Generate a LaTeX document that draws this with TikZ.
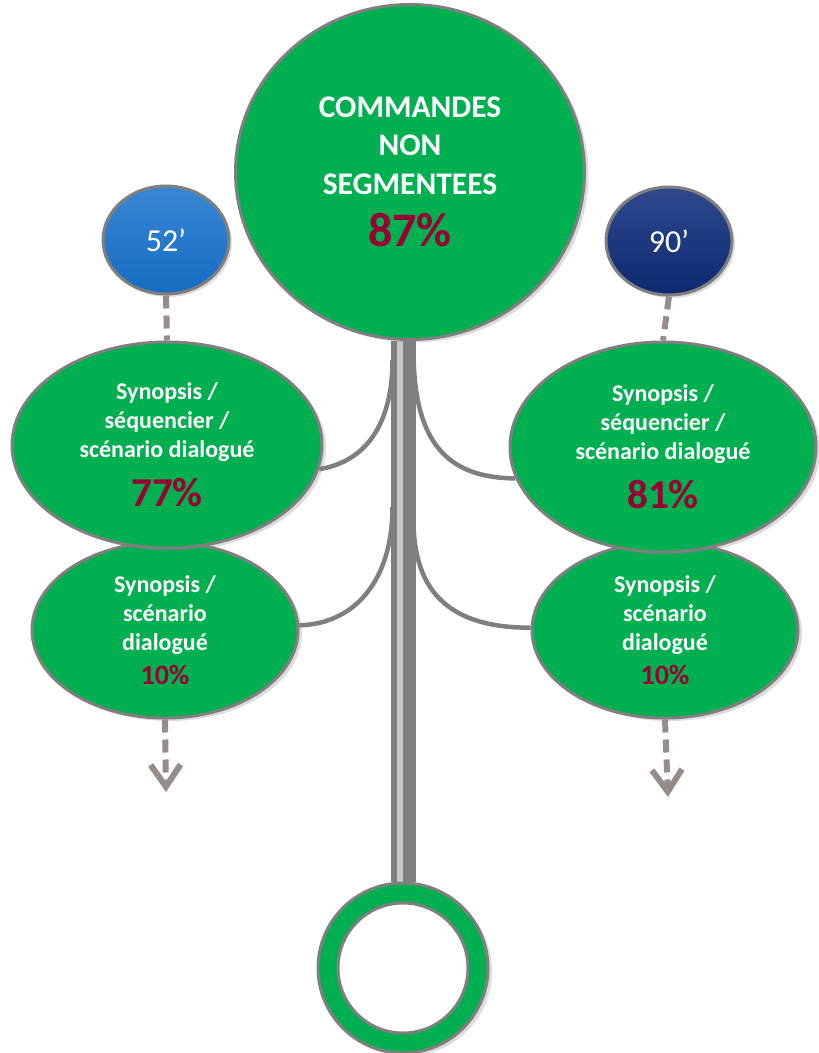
\documentclass[tikz,border=0pt]{standalone}
\usepackage{fontspec}
\setmainfont{Carlito}
\usetikzlibrary{arrows.meta,shapes.geometric,shadows,backgrounds}
\definecolor{leafgreen}{HTML}{00B050}
\definecolor{rimgray}{HTML}{7F7F7F}
\definecolor{stemlight}{HTML}{C8C8C8}
\definecolor{pctred}{HTML}{990033}
\definecolor{dashgray}{HTML}{978C8C}
\definecolor{blueshort}{HTML}{1672CC}
\definecolor{bluelong}{HTML}{0B2A77}
\newcommand{\pctline}[2]{{\color{pctred}\fontsize{#1}{#1}\selectfont #2\%}}
\tikzset{every node/.style={font=\bfseries,text=white,align=center,inner sep=0pt},
  leaf/.style={ellipse,fill=leafgreen,draw=rimgray,line width=3pt,
    drop shadow={opacity=0.28,shadow xshift=4pt,shadow yshift=-3pt}},
  button/.style={ellipse,draw=rimgray,line width=3pt,top color=#1!85!white,
    middle color=#1,bottom color=#1!95!black,font=\fontsize{32}{36}\selectfont,
    minimum width=126pt,minimum height=108pt,
    drop shadow={opacity=0.25,shadow xshift=3pt,shadow yshift=-3pt}},
  branch/.style={draw=rimgray,line width=4.5pt},
  dashlink/.style={draw=dashgray,line width=6pt,dash pattern=on 13pt off 7pt},
  line cap=butt}

\begin{document}
\begin{tikzpicture}[x=1pt,y=-1pt]
  \useasboundingbox (0,0) rectangle (819,1053);
  % lower leaves first, upper ones overlap them
  \node[leaf,minimum width=266pt,minimum height=176pt,font=\bfseries\fontsize{24}{29}\selectfont]
    (synleft) at (165,630) {Synopsis /\\scénario\\dialogué\\[5pt]\pctline{28}{10}};
  \node[leaf,minimum width=266pt,minimum height=176pt,font=\bfseries\fontsize{24}{29}\selectfont]
    (synright) at (665,630) {Synopsis /\\scénario\\dialogué\\[5pt]\pctline{28}{10}};
  \node[leaf,minimum width=310pt,minimum height=206pt,font=\bfseries\fontsize{24}{29}\selectfont]
    (seqleft) at (167,445) {Synopsis /\\séquencier /\\scénario dialogué\\[16pt]\pctline{41}{77}};
  \node[leaf,minimum width=306pt,minimum height=210pt,font=\bfseries\fontsize{24}{29}\selectfont]
    (seqright) at (663,447) {Synopsis /\\séquencier /\\scénario dialogué\\[16pt]\pctline{41}{81}};
  \node[leaf,minimum width=349pt,minimum height=335pt,font=\bfseries\fontsize{31.5}{38.5}\selectfont]
    (orders) at (410,172) {COMMANDES\\NON\\SEGMENTEES\\[14pt]\pctline{48}{87}};
  \node[button=blueshort] (short) at (166,240) {52’};
  \node[button=bluelong] (long) at (669,241) {90’};
  \node[leaf,circle,minimum size=170pt] (ring) at (403,968) {};
  \node[circle,fill=white,draw=rimgray,line width=3pt,minimum size=130pt] (hole) at (ring.center) {};
  \coordinate (fork1l) at (392.5,360);
  \coordinate (fork1r) at (413.5,350);
  \coordinate (fork2l) at (392.5,507);
  \coordinate (fork2r) at (413.5,520);
  \coordinate (exitleft) at (166,792);
  \coordinate (exitright) at (668,797);
  \begin{scope}[on background layer]
    \draw[branch] (fork1l) .. controls (392.5,425) and (365,462) .. (seqleft.-9);
    \draw[branch] (fork1r) .. controls (413.5,440) and (445,478) .. (seqright.-168);
    \draw[branch] (fork2l) .. controls (392.5,580) and (355,624) .. (synleft.2);
    \draw[branch] (fork2r) .. controls (413.5,592) and (450,628) .. (synright.179);
    \draw[rimgray,line width=25pt] (orders.south -| ring.north) -- (ring.north);
    \draw[stemlight,line width=6pt] ([xshift=-3.5pt]orders.south -| ring.north) -- ([xshift=-3.5pt]ring.north);
    \draw[dashlink] (short.south) -- (seqleft.north);
    \draw[dashlink] (long.south) -- (seqright.north);
  \end{scope}
  \draw[dashlink,-{Straight Barb[length=22pt,width=30pt]}] (synleft.south) -- (exitleft);
  \draw[dashlink,-{Straight Barb[length=22pt,width=30pt]}] (synright.south) -- (exitright);
\end{tikzpicture}
\end{document}
